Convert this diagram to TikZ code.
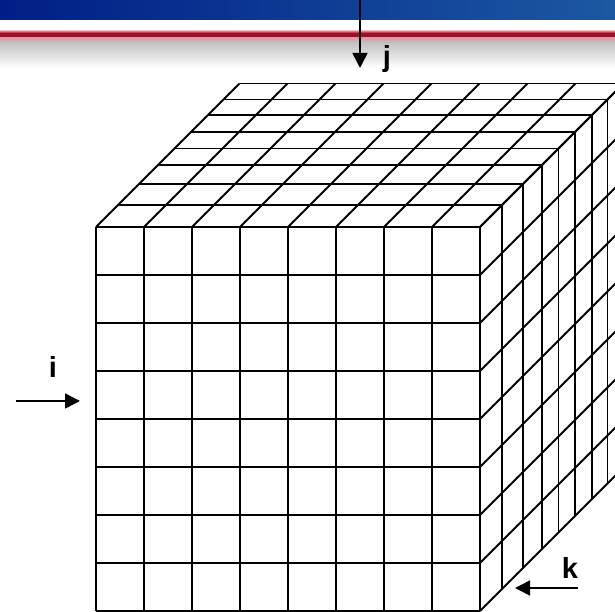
\documentclass[tikz,border=0pt]{standalone}
\usepackage{fontspec}
\setmainfont{Liberation Sans}
\usetikzlibrary{arrows.meta}
\definecolor{hdrL}{RGB}{0,30,135}
\definecolor{hdrR}{RGB}{28,88,162}
\definecolor{hdrRed}{RGB}{165,12,40}
\begin{document}
\begin{tikzpicture}[x=1pt,y=-1pt,
  gridline/.style={line width=1.8pt, black},
  lbl/.style={font=\bfseries\fontsize{29}{29}\selectfont, inner sep=0pt},
  arr/.style={line width=1.5pt, -{Triangle[length=15pt,width=15pt]}}]
\useasboundingbox (0,0) rectangle (615,612);
\clip (0,0) rectangle (615,612);
% header band
\shade[left color=hdrL, right color=hdrR] (0,0) rectangle (615,20);
\fill[white] (0,20) rectangle (615,31);
\shade[top color=white, bottom color=hdrRed] (0,29) rectangle (615,33);
\fill[hdrRed] (0,33) rectangle (615,38);
\shade[top color=hdrRed!40, bottom color=gray!45] (0,38) rectangle (615,44);
\shade[top color=gray!45, bottom color=white] (0,44) rectangle (615,68);
% cube faces
\fill[white] (96,227) rectangle (480,611);
\fill[white] (96,227) -- (480,227) -- (623.5,83.5) -- (239.5,83.5) -- cycle;
\fill[white] (480,227) -- (623.5,83.5) -- (623.5,467.5) -- (480,611) -- cycle;
% front face grid
\foreach \n in {0,...,8} {
  \draw[gridline] (96+48*\n,227) -- (96+48*\n,611);
  \draw[gridline] (96,227+48*\n) -- (480,227+48*\n);
}
% top and right faces: depth lines
\foreach \d in {22,43,62,78.5,95,112,127.5,143.5} {
  \draw[gridline] (96+\d,227-\d) -- (480+\d,227-\d);
  \draw[gridline] (480+\d,227-\d) -- (480+\d,611-\d);
}
% receding lines
\foreach \n in {0,...,8} {
  \draw[gridline] (96+48*\n,227) -- ++(143.5,-143.5);
  \draw[gridline] (480,227+48*\n) -- ++(143.5,-143.5);
}
% labels and arrows
\coordinate (jS) at (360,0);
\coordinate (jE) at (360,68);
\draw[arr] (jS) -- (jE);
\node[lbl] (j) at (387,59) {j};
\coordinate (iS) at (16,401);
\coordinate (iE) at (80,401);
\draw[arr] (iS) -- (iE);
\node[lbl] (i) at (53,367) {i};
\coordinate (kS) at (578,588);
\coordinate (kE) at (515,588);
\draw[arr] (kS) -- (kE);
\node[lbl] (k) at (570,568) {k};
\end{tikzpicture}
\end{document}
